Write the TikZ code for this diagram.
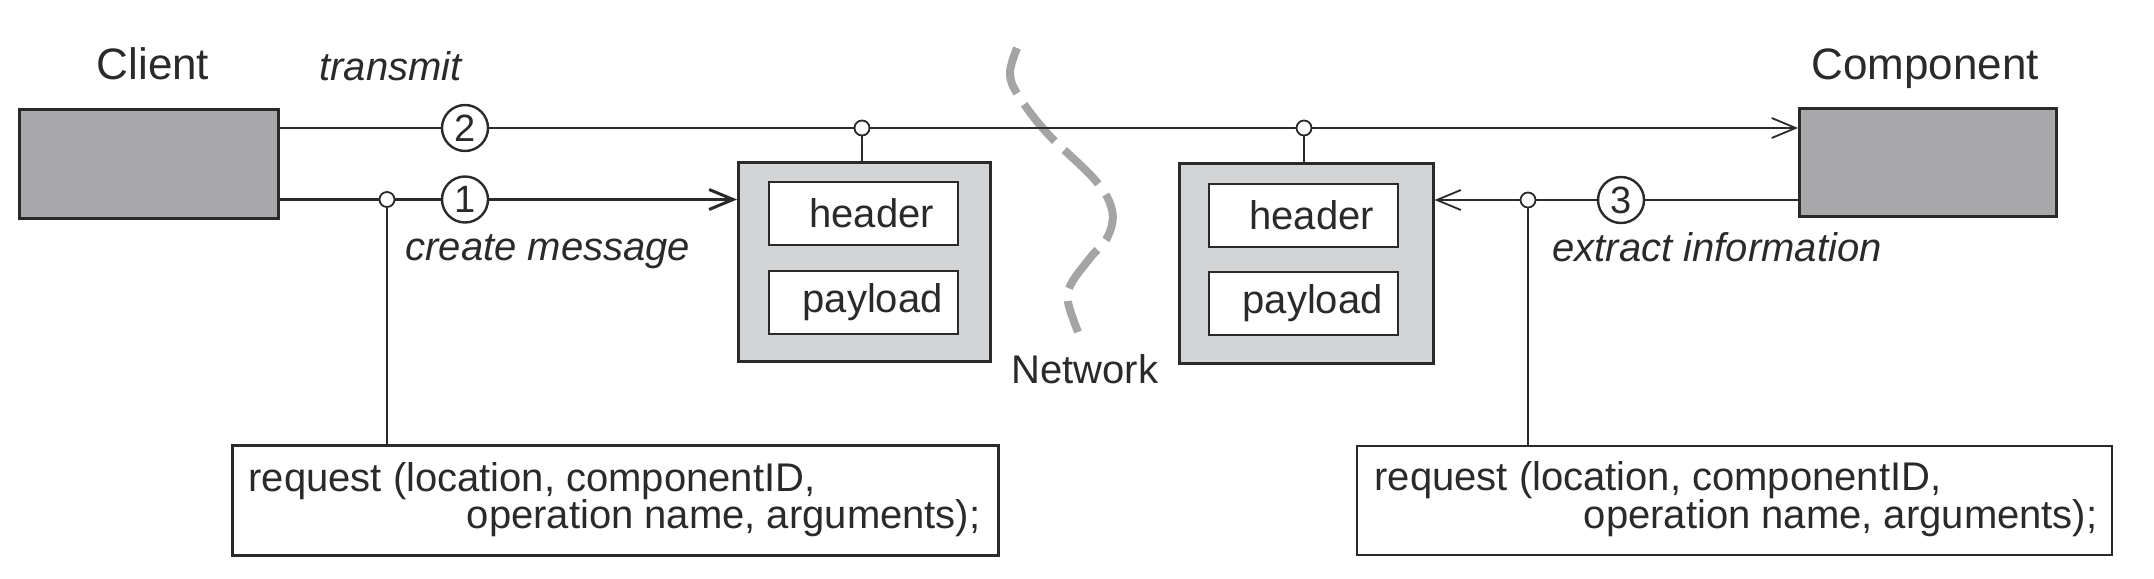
\documentclass[tikz,border=0pt]{standalone}
\usepackage{fontspec}
\setmainfont{Liberation Sans}
\usetikzlibrary{arrows.meta}
\definecolor{darkbox}{HTML}{A8A8AA}
\definecolor{lightbox}{HTML}{D3D4D6}
\definecolor{netgray}{HTML}{A4A4A6}
\definecolor{ink}{HTML}{2A2A2A}
\begin{document}
\begin{tikzpicture}[x=1pt,y=-1pt,
  every node/.style={font=\fontsize{40}{48}\selectfont, text=ink},
  titletext/.style={font=\fontsize{44}{52}\selectfont},
  ittext/.style={font=\fontsize{40}{48}\selectfont\itshape},
  rectbase/.style={rectangle, draw=ink, inner sep=0pt, anchor=north west},
  darkrect/.style={rectbase, fill=darkbox, line width=2.5pt},
  lightrect/.style={rectbase, fill=lightbox, line width=2.5pt},
  innerrect/.style={rectbase, fill=white, line width=2.2pt, minimum width=189pt, minimum height=63pt},
  reqrect/.style={rectbase, fill=white},
  numcirc/.style={circle, draw=ink, fill=white, line width=2.4pt, minimum size=46pt, inner sep=0pt, font=\fontsize{38}{44}\selectfont},
  junc/.style={circle, draw=ink, fill=white, line width=1.8pt, minimum size=15pt, inner sep=0pt},
  thinline/.style={draw=ink, line width=1.8pt},
  thickline/.style={draw=ink, line width=3pt},
  barb/.style={-{Straight Barb[length=24pt,width=20pt]}},
  netline/.style={draw=netgray, line width=8pt, dash pattern=on 48pt off 13pt}
]
\useasboundingbox (0,0) rectangle (2154,578);

% network wave
\draw[netline] plot[smooth, tension=0.6] coordinates {(1017,48) (1010,73) (1018,95) (1047,133) (1095,180) (1112,210) (1108,236) (1090,258) (1071,284) (1068,302) (1078,332)};
\node[anchor=base west] (netlbl) at (1008,383) {Network};

% main boxes
\node[darkrect, minimum width=259pt, minimum height=109pt] (client) at (18,108) {};
\node[darkrect, minimum width=257pt, minimum height=108pt] (comp) at (1798,107) {};
\node[titletext, anchor=base] (clientlbl) at (153,80) {Client};
\node[titletext, anchor=base] (complbl) at (1925,80) {Component};

% message boxes
\node[lightrect, minimum width=252pt, minimum height=199pt] (msgL) at (737,161) {};
\node[innerrect] (hdrL) at (768,181) {\hspace*{16pt}header};
\node[innerrect] (payL) at (768,270) {\hspace*{18pt}payload};
\node[lightrect, minimum width=254pt, minimum height=200pt] (msgR) at (1178,162) {};
\node[innerrect] (hdrR) at (1208,183) {\hspace*{16pt}header};
\node[innerrect] (payR) at (1208,271) {\hspace*{18pt}payload};

% request boxes
\node[reqrect, line width=3pt, minimum width=766pt, minimum height=110pt] (reqL) at (231,444) {};
\node[anchor=base west] (reqLa) at (245,491) {request (location, componentID,};
\node[anchor=base east] (reqLb) at (984,528) {operation name, arguments);};
\node[reqrect, line width=1.8pt, minimum width=755pt, minimum height=109pt] (reqR) at (1356,445) {};
\node[anchor=base west] (reqRa) at (1371,490) {request (location, componentID,};
\node[anchor=base east] (reqRb) at (2101,528) {operation name, arguments);};

% circles and junctions
\node[numcirc] (c2) at (465,128) {2};
\node[numcirc] (c1) at (465,199.5) {1};
\node[numcirc] (c3) at (1621,200) {3};
\node[junc] (j1) at (387,199.5) {};
\node[junc] (j2a) at (862,128) {};
\node[junc] (j2b) at (1304,128) {};
\node[junc] (j3) at (1528,200) {};

% labels
\node[ittext, anchor=base west] (translbl) at (316,81) {transmit};
\node[ittext, anchor=base west] (createlbl) at (402,260) {create message};
\node[ittext, anchor=base west] (extractlbl) at (1549,261) {extract information};

% connectors
\draw[thinline] (client.east |- c2) -- (c2);
\draw[thinline, barb] (c2) -- (j2a) -- (j2b) -- (comp.west |- c2);
\draw[thinline] (j2a) -- (j2a |- msgL.north);
\draw[thinline] (j2b) -- (j2b |- msgR.north);
\draw[thickline] (client.east |- c1) -- (j1) -- (c1);
\draw[thickline, barb] (c1) -- (msgL.west |- c1);
\draw[thinline, barb] (comp.west |- c3) -- (c3) -- (j3) -- (msgR.east |- c3);
\draw[thinline] (j1) -- (j1 |- reqL.north);
\draw[thinline] (j3) -- (j3 |- reqR.north);
\end{tikzpicture}
\end{document}
